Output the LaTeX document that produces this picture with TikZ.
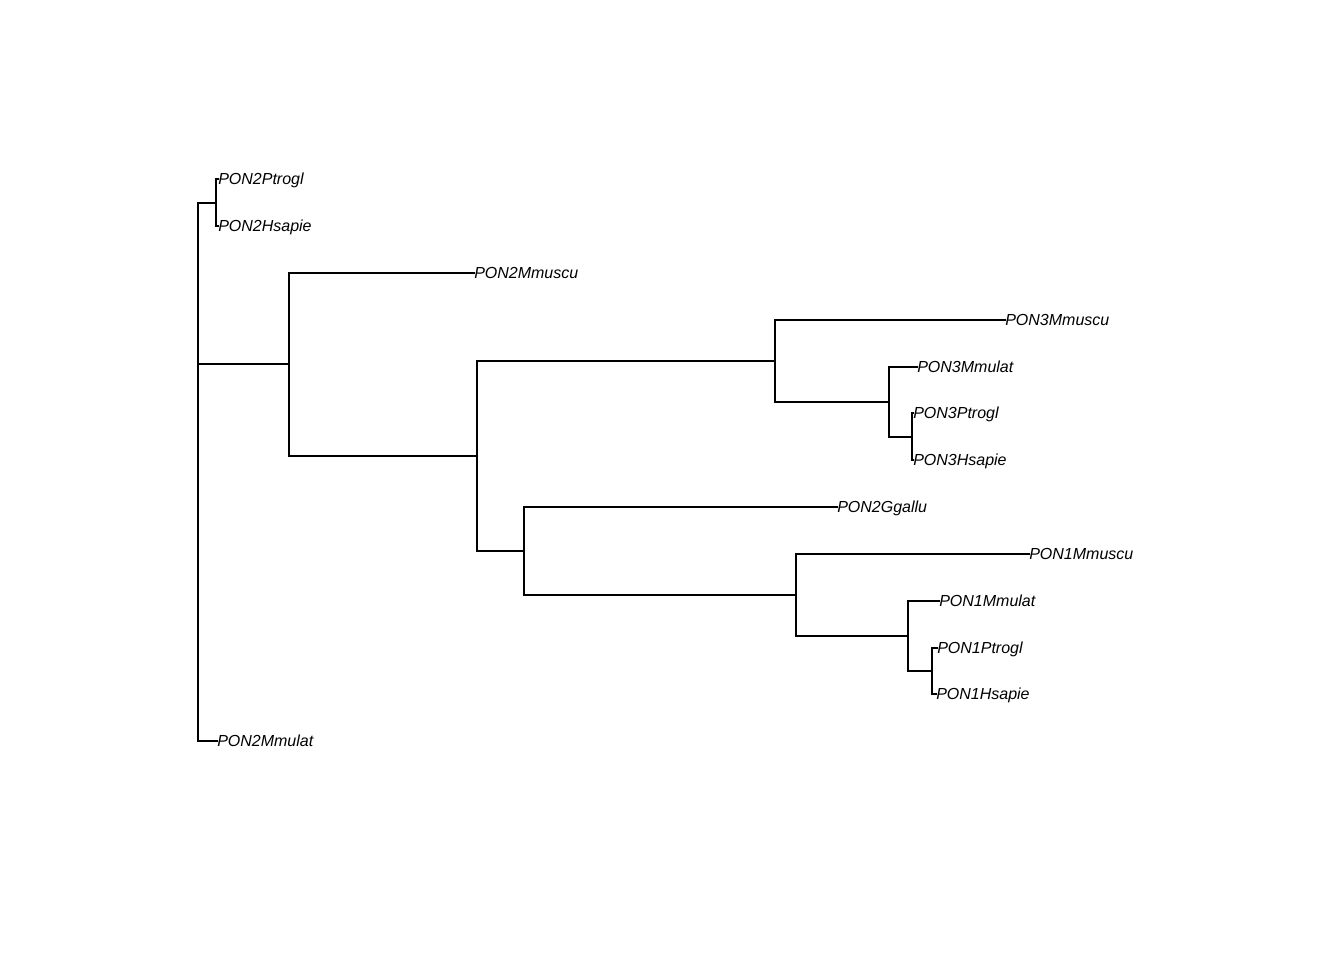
\documentclass[tikz,border=0pt]{standalone}
\usepackage{fontspec}
\setmainfont{Liberation Sans}
\usetikzlibrary{calc}
\tikzset{
	edge/.style={line width=1.5pt, line cap=rect},
	tiplabel/.style={anchor=west, inner sep=0pt, font=\fontsize{12}{14}\selectfont\itshape, text height=0.94em, text depth=0.1em}
}

\begin{document}
\begin{tikzpicture}[x=0.75pt, y=-0.75pt]
			%%%%% START %%%%%
			\useasboundingbox (0, 0) rectangle (1344, 960);
			
			% inner nodes
			\coordinate (root) at (198, 364);
			\coordinate (n2hp) at (216, 203);
			\coordinate (n2) at (289, 364);
			\coordinate (n3) at (477, 456);
			\coordinate (n4) at (775, 361);
			\coordinate (n4b) at (889, 402);
			\coordinate (n4c) at (912, 437);
			\coordinate (n5) at (524, 551);
			\coordinate (n6) at (796, 595);
			\coordinate (n6b) at (908, 636);
			\coordinate (n6c) at (932, 671);
			
			% tips
			\node[tiplabel] (p2pt) at (218, 179) {PON2Ptrogl};
			\node[tiplabel] (p2hs) at (218, 226) {PON2Hsapie};
			\node[tiplabel] (p2mm) at (474, 273) {PON2Mmuscu};
			\node[tiplabel] (p3mm) at (1005, 320) {PON3Mmuscu};
			\node[tiplabel] (p3ml) at (917, 367) {PON3Mmulat};
			\node[tiplabel] (p3pt) at (913, 413) {PON3Ptrogl};
			\node[tiplabel] (p3hs) at (913, 460) {PON3Hsapie};
			\node[tiplabel] (p2gg) at (837, 507) {PON2Ggallu};
			\node[tiplabel] (p1mm) at (1029, 554) {PON1Mmuscu};
			\node[tiplabel] (p1ml) at (939, 601) {PON1Mmulat};
			\node[tiplabel] (p1pt) at (937, 648) {PON1Ptrogl};
			\node[tiplabel] (p1hs) at (936, 694) {PON1Hsapie};
			\node[tiplabel] (p2ml) at (217, 741) {PON2Mmulat};
			
			% edges
			\draw[edge] (root) |- (n2hp);
			\draw[edge] (root) |- (n2);
			\draw[edge] (root) |- (p2ml.west);
			\draw[edge] (n2hp) |- (p2pt.west);
			\draw[edge] (n2hp) |- (p2hs.west);
			\draw[edge] (n2) |- (p2mm.west);
			\draw[edge] (n2) |- (n3);
			\draw[edge] (n3) |- (n4);
			\draw[edge] (n3) |- (n5);
			\draw[edge] (n4) |- (p3mm.west);
			\draw[edge] (n4) |- (n4b);
			\draw[edge] (n4b) |- (p3ml.west);
			\draw[edge] (n4b) |- (n4c);
			\draw[edge] (n4c) |- (p3pt.west);
			\draw[edge] (n4c) |- (p3hs.west);
			\draw[edge] (n5) |- (p2gg.west);
			\draw[edge] (n5) |- (n6);
			\draw[edge] (n6) |- (p1mm.west);
			\draw[edge] (n6) |- (n6b);
			\draw[edge] (n6b) |- (p1ml.west);
			\draw[edge] (n6b) |- (n6c);
			\draw[edge] (n6c) |- (p1pt.west);
			\draw[edge] (n6c) |- (p1hs.west);
			%%%%% END %%%%%
\end{tikzpicture}
\end{document}
